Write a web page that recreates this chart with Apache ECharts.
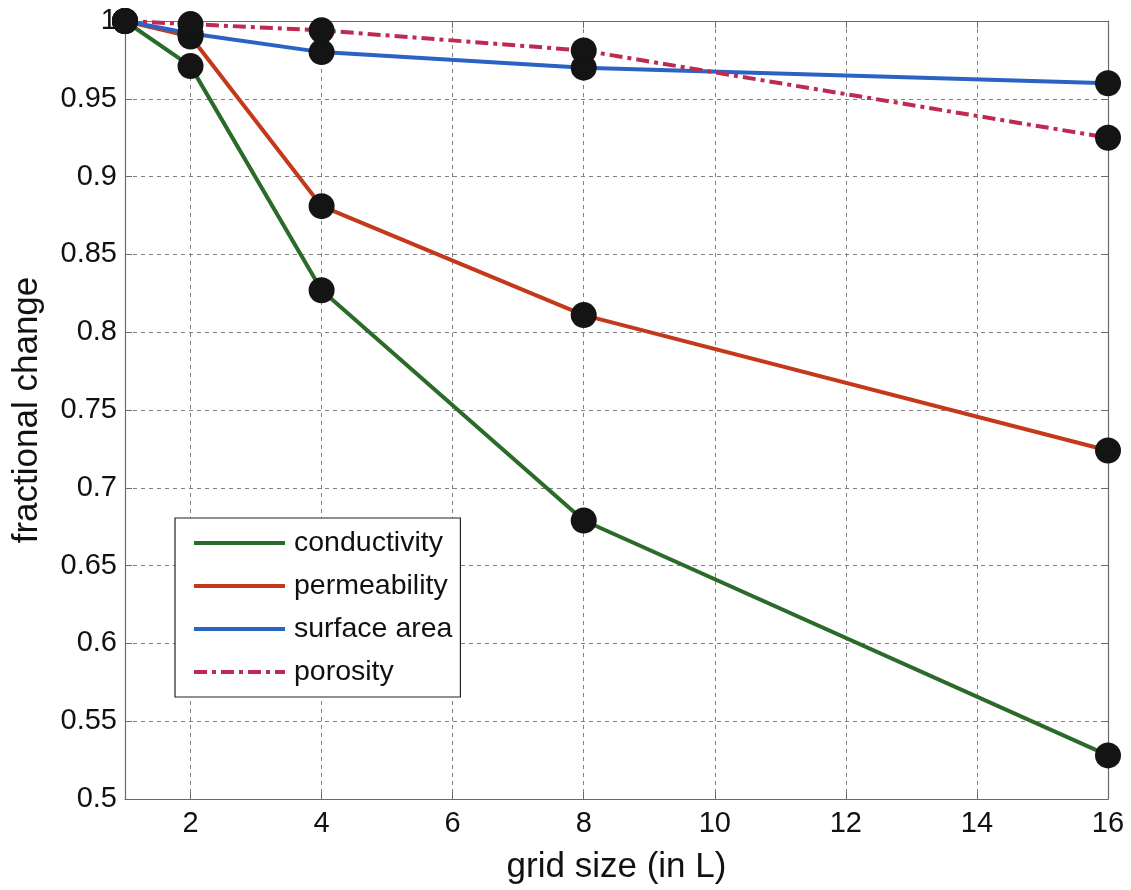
<!DOCTYPE html>
<html>
<head>
<meta charset="utf-8">
<script src="https://cdn.jsdelivr.net/npm/echarts@6/dist/echarts.min.js"></script>
<style>html,body{margin:0;padding:0;background:#fff}#c{width:1131px;height:890px}</style>
</head>
<body>
<div id="c"></div>
<script>
const gridSizes = [1, 2, 4, 8, 16];
const conductivity = [1.0, 0.971, 0.827, 0.679, 0.528];
const permeability = [1.0, 0.990, 0.881, 0.811, 0.724];
const surfaceArea = [1.0, 0.992, 0.980, 0.970, 0.960];
const porosity = [1.0, 0.998, 0.994, 0.981, 0.925];
const xTickValues = [2, 4, 6, 8, 10, 12, 14, 16];
const seriesNames = ['conductivity', 'permeability', 'surface area', 'porosity'];
const seriesColors = ['#2b6b29', '#c4391c', '#2a62c6', '#be2a52'];
const allValues = [conductivity, permeability, surfaceArea, porosity];

const font = '"Liberation Sans", Arial, sans-serif';
const axisColor = '#6a6a6a';

const lineSeries = allValues.map((vals, i) => ({
  name: seriesNames[i],
  type: 'line',
  symbol: 'none',
  data: gridSizes.map((x, j) => [x, vals[j]]),
  lineStyle: {
    color: seriesColors[i],
    width: 4,
    type: i === 3 ? [13, 5, 4, 5] : 'solid'
  },
  itemStyle: { color: seriesColors[i] },
  z: 2
}));

const markerSeries = allValues.map((vals, i) => ({
  name: 'm' + i,
  type: 'scatter',
  symbol: 'circle',
  symbolSize: 26,
  data: gridSizes.map((x, j) => [x, vals[j]]),
  itemStyle: { color: '#141414', opacity: 1 },
  z: 5,
  silent: true
}));

const chart = echarts.init(document.getElementById('c'), null, { renderer: 'canvas' });
chart.setOption({
  animation: false,
  backgroundColor: '#fff',
  grid: { left: 125, right: 23, top: 21, bottom: 90, containLabel: false },
  legend: {
    data: seriesNames,
    orient: 'vertical',
    left: 175,
    top: 518,
    backgroundColor: '#fff',
    borderColor: '#222',
    borderWidth: 1.2,
    borderRadius: 0,
    padding: [10, 8, 10, 17],
    itemWidth: 91,
    itemHeight: 14,
    itemGap: 13,
    itemStyle: { opacity: 0 },
    lineStyle: { width: 4 },
    textStyle: { fontFamily: font, fontSize: 28.5, color: '#111', lineHeight: 30, padding: [0, 0, 0, 4] },
    selectedMode: false
  },
  xAxis: [{
    type: 'value',
    min: 1,
    max: 16,
    position: 'bottom',
    name: 'grid size (in L)',
    nameLocation: 'middle',
    nameGap: 51,
    nameTextStyle: { fontFamily: font, fontSize: 35, color: '#111' },
    axisLine: { show: true, onZero: false, lineStyle: { color: axisColor, width: 1.2 } },
    axisTick: { show: true, inside: true, length: 7, customValues: xTickValues, lineStyle: { color: axisColor } },
    axisLabel: { customValues: xTickValues, fontFamily: font, fontSize: 29, color: '#111', margin: 10 },
    splitLine: { show: true, lineStyle: { color: '#808080', type: [4, 4], width: 1 } }
  }, {
    type: 'value',
    min: 1,
    max: 16,
    position: 'top',
    axisLine: { show: true, onZero: false, lineStyle: { color: axisColor, width: 1.2 } },
    axisTick: { show: true, inside: true, length: 7, customValues: xTickValues, lineStyle: { color: axisColor } },
    axisLabel: { show: false, customValues: xTickValues },
    splitLine: { show: false }
  }],
  yAxis: [{
    type: 'value',
    min: 0.5,
    max: 1,
    interval: 0.05,
    position: 'left',
    name: 'fractional change',
    nameLocation: 'middle',
    nameGap: 80,
    nameRotate: 90,
    nameTextStyle: { fontFamily: font, fontSize: 35, color: '#111' },
    axisLine: { show: true, onZero: false, lineStyle: { color: axisColor, width: 1.2 } },
    axisTick: { show: true, inside: true, length: 7, lineStyle: { color: axisColor } },
    axisLabel: { fontFamily: font, fontSize: 29, color: '#111', margin: 8 },
    splitLine: { show: true, lineStyle: { color: '#808080', type: [4, 4], width: 1 } }
  }, {
    type: 'value',
    min: 0.5,
    max: 1,
    interval: 0.05,
    position: 'right',
    axisLine: { show: true, onZero: false, lineStyle: { color: axisColor, width: 1.2 } },
    axisTick: { show: true, inside: true, length: 7, lineStyle: { color: axisColor } },
    axisLabel: { show: false },
    splitLine: { show: false }
  }],
  series: lineSeries.concat(markerSeries)
});
</script>
</body>
</html>
